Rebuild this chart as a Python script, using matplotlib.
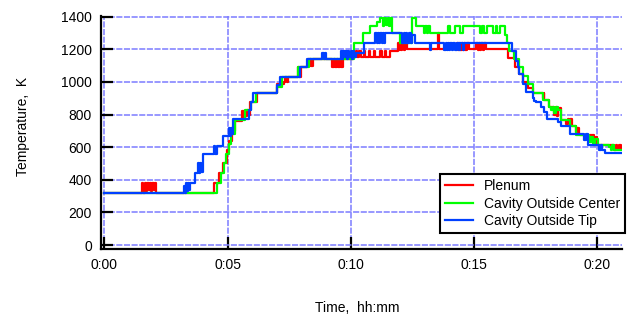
import matplotlib
matplotlib.use('Agg')
import matplotlib.pyplot as plt
from matplotlib.ticker import FuncFormatter

plt.rcParams['font.family'] = ['Liberation Sans', 'DejaVu Sans']

# time in minutes, temperature in K
plenum_t = [0, 1.53, 1.58, 1.65, 1.70, 1.75, 1.80, 1.85, 1.90, 1.95, 2.00, 2.05, 2.11,
            4.47, 4.64, 4.81, 4.97, 5.08, 5.20, 5.30, 5.60, 5.65, 5.70, 5.75, 5.80, 5.85, 5.93,
            6.20, 7.00, 7.30, 7.35, 7.40, 7.45, 7.85, 7.90, 8.00, 8.24, 8.28, 8.32, 8.36, 8.40, 8.45,
            9.26, 9.32, 9.38, 9.44, 9.50, 9.56, 9.62, 9.68,
            10.10, 10.20, 10.25, 10.35, 10.40, 10.55, 10.60, 10.75, 10.80, 10.95, 11.00, 11.20, 11.25,
            11.40, 11.45, 11.60, 11.90, 11.95, 12.00, 12.05, 12.10, 12.15, 12.20, 12.30,
            13.55, 13.60, 14.30, 14.35, 14.40, 14.45, 14.50, 14.55, 14.60, 14.65, 14.70, 14.80,
            15.10, 15.15, 15.20, 15.25, 15.30, 15.35, 15.40, 15.50,
            16.40, 16.67, 16.84, 16.98, 17.18, 17.39, 17.79, 17.83, 17.86, 18.06, 18.27, 18.32,
            18.37, 18.42, 18.54, 18.74, 18.80, 18.86, 18.92, 18.99, 19.15, 19.20, 19.25, 19.29,
            19.89, 19.94, 19.98, 20.03, 20.70, 20.75, 20.82, 20.88, 20.95, 21.05]
plenum_T = [320, 380, 320, 380, 330, 380, 340, 380, 330, 380, 340, 380, 320,
            380, 440, 500, 580, 640, 700, 760, 820, 780, 820, 790, 830, 800, 876,
            933, 984, 1000, 1029, 1000, 1029, 1090, 1029, 1090, 1100, 1140, 1100, 1140, 1100, 1140,
            1090, 1140, 1090, 1140, 1090, 1140, 1090, 1140,
            1150, 1190, 1150, 1190, 1150, 1190, 1150, 1190, 1150, 1190, 1150, 1190, 1150,
            1190, 1150, 1190, 1237, 1195, 1237, 1195, 1237, 1195, 1237, 1200,
            1300, 1200, 1237, 1195, 1237, 1195, 1237, 1195, 1237, 1195, 1237, 1200,
            1237, 1195, 1237, 1195, 1237, 1195, 1237, 1200,
            1145, 1090, 1050, 1000, 960, 932, 900, 932, 886, 845, 800, 845,
            790, 840, 768, 740, 770, 745, 770, 727, 690, 720, 680, 672,
            615, 660, 620, 611, 585, 611, 590, 611, 590, 590]

center_t = [0, 4.58, 4.72, 4.85, 4.95, 5.05, 5.15, 5.30, 5.70, 5.95, 6.15, 7.00, 7.20, 7.85, 8.30,
            10.13, 10.51, 10.78, 11.05, 11.19, 11.30, 11.35, 11.45, 11.50, 11.55, 11.60, 11.66,
            12.00, 12.47, 12.64, 12.98, 13.03, 13.10, 13.15, 13.22, 13.32, 13.93,
            14.03, 14.23, 14.44, 14.57, 15.25, 15.32, 15.40, 15.52, 15.79, 15.88, 15.95, 16.06,
            16.26, 16.36, 16.44, 16.64, 16.84, 16.98, 17.18, 17.39, 17.79, 18.06, 18.13, 18.20,
            18.27, 18.35, 18.42, 18.54, 18.88, 19.15, 19.69, 19.75, 19.82, 19.90, 20.03,
            20.50, 20.55, 20.62, 20.70, 21.05]
center_T = [320, 380, 440, 500, 560, 620, 680, 765, 825, 876, 933, 970, 1030, 1090, 1140,
            1237, 1300, 1345, 1370, 1392, 1345, 1392, 1350, 1392, 1345, 1392, 1300,
            1240, 1392, 1345, 1300, 1345, 1300, 1345, 1300, 1300, 1345,
            1300, 1345, 1300, 1345, 1300, 1345, 1300, 1345, 1300, 1345, 1300, 1345,
            1290, 1240, 1192, 1141, 1090, 1033, 988, 932, 886, 845, 825, 845,
            810, 845, 825, 768, 727, 672, 630, 660, 615, 650, 611,
            600, 580, 611, 585, 585]

tip_t = [0, 3.22, 3.26, 3.30, 3.34, 3.38, 3.42, 3.46, 3.70, 3.80, 3.84, 3.88, 3.92, 4.00,
         4.45, 4.48, 4.58, 4.82, 5.05, 5.09, 5.13, 5.17, 5.24, 5.87, 5.95, 6.05, 7.02, 7.15,
         7.94, 8.24, 8.85, 8.90, 8.95, 9.00, 9.60, 9.65, 9.70, 9.75, 9.80, 9.85, 9.90, 9.95,
         10.00, 10.05, 10.10, 10.15, 10.20, 10.54, 11.00, 11.05, 11.10, 11.15, 11.20, 11.25,
         11.30, 11.35, 11.40, 12.10, 12.15, 12.20, 12.25, 12.30, 12.35, 12.45, 12.50, 12.60,
         13.20, 13.26, 13.80, 13.85, 13.90, 13.95, 14.00, 14.05, 14.10, 14.15, 14.25, 14.30,
         14.40, 14.45, 14.55, 14.60, 16.53, 16.71, 16.78, 16.84, 16.98, 17.11, 17.39, 17.45,
         17.52, 17.72, 17.86, 17.97, 18.40, 18.54, 18.88, 19.48, 19.55, 19.62, 20.09, 20.15,
         20.20, 20.30, 21.05]
tip_T = [320, 360, 320, 380, 330, 380, 340, 380, 440, 500, 440, 500, 450, 560,
         610, 560, 610, 670, 720, 670, 720, 680, 775, 830, 875, 933, 978, 1030,
         1090, 1140, 1180, 1140, 1180, 1140, 1190, 1140, 1190, 1150, 1190, 1140, 1190, 1150,
         1190, 1140, 1190, 1150, 1180, 1237, 1300, 1237, 1300, 1240, 1300, 1237,
         1300, 1240, 1300, 1237, 1300, 1240, 1300, 1237, 1300, 1240, 1290, 1237,
         1195, 1237, 1195, 1237, 1195, 1237, 1195, 1237, 1195, 1237, 1195, 1237,
         1195, 1237, 1195, 1237, 1192, 1131, 1090, 1049, 988, 937, 900, 880,
         876, 845, 815, 774, 754, 727, 678, 642, 678, 611, 580, 611,
         585, 564, 564]

fig = plt.figure(figsize=(6.31, 3.2), dpi=100)
ax = fig.add_axes([100.85 / 631, 70.9 / 320, 520.9 / 631, 233.3 / 320])

ax.plot(plenum_t, plenum_T, drawstyle='steps-post', color='#ff0000', lw=1.6, label='Plenum')
ax.plot(center_t, center_T, drawstyle='steps-post', color='#00ff00', lw=1.6, label='Cavity Outside Center')
ax.plot(tip_t, tip_T, drawstyle='steps-post', color='#0040ff', lw=1.6, label='Cavity Outside Tip')

ax.set_xlim(-0.14, 21.0)
ax.set_ylim(-25, 1405)
ax.set_xticks([0, 5, 10, 15, 20])
ax.set_yticks(range(0, 1401, 200))
ax.xaxis.set_major_formatter(FuncFormatter(lambda v, p: '%d:%02d' % (int(v) // 60, int(v) % 60)))

ax.grid(True, color='#7c7cff', linestyle=(0, (4, 1)), linewidth=1.1)
ax.set_axisbelow(True)
for s in ['top', 'right']:
    ax.spines[s].set_visible(False)
for s in ['left', 'bottom']:
    ax.spines[s].set_linewidth(1.6)
ax.tick_params(direction='in', length=8.5, width=1.6, labelsize=10, pad=6.5)

ax.set_xlabel('Time,  hh:mm', fontsize=10)
ax.set_ylabel('Temperature,  K', fontsize=10)
ax.xaxis.set_label_coords(0.493, -0.222)
ax.yaxis.set_label_coords(-0.136, 0.525)

leg = ax.legend(loc='lower right', bbox_to_anchor=(625 / 631, 87 / 320),
                bbox_transform=fig.transFigure, fontsize=10, fancybox=False,
                framealpha=1, edgecolor='black', handlelength=2, labelspacing=0.25,
                borderpad=0.35, borderaxespad=0)
leg.get_frame().set_linewidth(1.5)

plt.savefig('out.png', dpi=100)
